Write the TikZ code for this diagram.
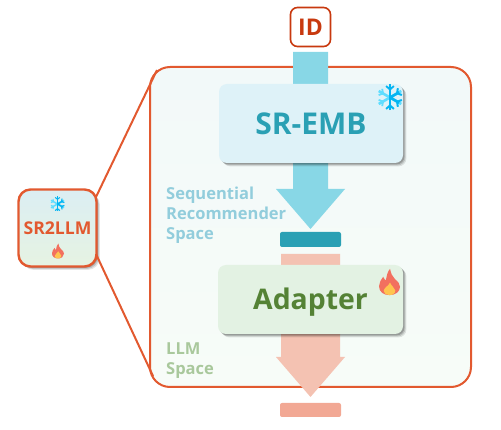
\documentclass[tikz,border=0pt]{standalone}
\usepackage{fontspec}
\setmainfont{Open Sans}
\usetikzlibrary{shadows}
\definecolor{edgeor}{HTML}{E2592F}
\definecolor{idred}{HTML}{C8390F}
\definecolor{arrowblue}{HTML}{88D7E6}
\definecolor{barblue}{HTML}{2AA0B4}
\definecolor{arrowsal}{HTML}{F4C2B2}
\definecolor{barsal}{HTML}{F2A894}
\definecolor{snowa}{HTML}{5FDDFF}
\definecolor{snowb}{HTML}{05B5F2}
\definecolor{flamea}{HTML}{F2705F}
\definecolor{flameb}{HTML}{FFC44F}
\definecolor{frametop}{HTML}{F2F9F9}
\definecolor{framebot}{HTML}{F7FCF8}
\definecolor{modtop}{HTML}{DBEEF3}
\definecolor{modbot}{HTML}{E6F3E2}
\definecolor{embfill}{HTML}{DEF2F8}
\definecolor{adfill}{HTML}{E3F2E3}
\definecolor{adtext}{HTML}{548235}
\definecolor{seqtext}{HTML}{92CDDC}
\definecolor{llmtext}{HTML}{A9C89C}
\tikzset{
  softshadow/.style={
    general shadow={fill=black,opacity=.10,shadow xshift=3.4pt,shadow yshift=-3.4pt},
    general shadow={fill=black,opacity=.14,shadow xshift=2.4pt,shadow yshift=-2.4pt},
    general shadow={fill=black,opacity=.20,shadow xshift=1.4pt,shadow yshift=-1.4pt}},
  block/.style={rounded corners=8pt,inner sep=0pt,softshadow},
  spacelabel/.style={anchor=north west,align=left,inner sep=0pt,font=\bfseries\fontsize{16.5}{20}\selectfont},
  pics/snowicon/.style={code={
    \foreach \a in {30,90,150,210,330}{
      \draw[snowa,line width=#1*.2pt] ({\a}:1) -- (0,0);
      \draw[snowa,line width=#1*.14pt] ({\a}:.62) -- +({\a+50}:.36) ({\a}:.62) -- +({\a-50}:.36);
    }
    \draw[snowb,line width=#1*.2pt] (0,-1) -- (0,1);
    \draw[snowb,line width=#1*.2pt] (0,0) -- (.7,.4) (0,0) -- (.7,-.4);
    \draw[snowb,line width=#1*.14pt] (0,-.62) -- (.3,-.88) (0,-.62) -- (-.3,-.88);
    \draw[snowb,line width=#1*.14pt] (0,.62) -- (.3,.88) (0,.62) -- (-.3,.88);
    \draw[snowb,line width=#1*.14pt] (.55,.32) -- (.92,.2) (.55,.32) -- (.6,.72);
    \draw[snowb,line width=#1*.14pt] (.55,-.32) -- (.92,-.2) (.55,-.32) -- (.6,-.72);
  }},
  pics/flameicon/.style={code={
    \fill[flamea] (.05,-1.25) .. controls (.15,-.8) and (.25,-.55) .. (.5,-.3)
       .. controls (.8,0) and (1,.1) .. (1,.45)
       .. controls (1,.95) and (.55,1.25) .. (0,1.25)
       .. controls (-.55,1.25) and (-1,.95) .. (-1,.4)
       .. controls (-1,.05) and (-.8,-.2) .. (-.6,-.5)
       .. controls (-.5,-.3) and (-.45,-.2) .. (-.35,-.15)
       .. controls (-.25,-.6) and (-.2,-1) .. (.05,-1.25) -- cycle;
    \fill[flameb] (.05,.05) .. controls (.12,.3) and (.45,.5) .. (.55,.8)
       .. controls (.55,1.1) and (.3,1.25) .. (0,1.25)
       .. controls (-.3,1.25) and (-.55,1.1) .. (-.55,.85)
       .. controls (-.55,.55) and (-.1,.4) .. (.05,.05) -- cycle;
  }},
}
\begin{document}
\begin{tikzpicture}[x=1pt,y=-1pt]
\useasboundingbox (0,0) rectangle (501,430);
\node[rounded corners=20pt,draw=edgeor,line width=2pt,
  minimum width=321pt,minimum height=320pt,inner sep=0pt,
  top color=frametop,bottom color=framebot] (frame) at (310.5,227) {};
\coordinate (fa) at (157,70);
\coordinate (fb) at (153,376);
\node[rounded corners=12pt,draw=edgeor,line width=2.4pt,minimum width=78pt,minimum height=77pt,inner sep=0pt,softshadow,
  top color=modtop,bottom color=modbot,
  text=edgeor,font=\bfseries\fontsize{17.6}{20}\selectfont] (sr) at (57.5,228) {SR2LLM};
\coordinate (sa) at (96,197);
\coordinate (sb) at (96,254);
\draw[edgeor,line width=2pt] (sa) -- (fa);
\draw[edgeor,line width=2pt] (sb) -- (fb);
\pic[scale=7.5] at (57.5,204) {snowicon=7.5};
\pic[scale=6] at (58,251) {flameicon};
\node[rounded corners=7pt,draw=idred,line width=1.6pt,fill=white,minimum width=40pt,minimum height=39pt,inner sep=0pt,
  text=idred,font=\bfseries\fontsize{23}{26}\selectfont] (id) at (310.5,27) {ID};
\fill[arrowblue] (293,52) -- (328,52) -- (328,189) -- (345,189) -- (310.5,229) -- (276,189) -- (293,189) -- cycle;
\node[block,fill=embfill,minimum width=184pt,minimum height=79pt,
  text=barblue,font=\bfseries\fontsize{30}{34}\selectfont] (emb) at (311,123.5) {SR-EMB};
\pic[scale=13] at (390,97.5) {snowicon=13};
\node[spacelabel,text=seqtext] (seq) at (166,187) {Sequential\\Recommender\\Space};
\node[fill=barblue,rounded corners=2pt,minimum width=61pt,minimum height=15pt,inner sep=0pt] (bar1) at (310.5,239.5) {};
\fill[arrowsal] (281,254) -- (340,254) -- (340,357) -- (345,357) -- (310.5,397) -- (276,357) -- (281,357) -- cycle;
\node[block,fill=adfill,minimum width=185pt,minimum height=69pt,text height=25pt,text depth=4pt,
  text=adtext,font=\bfseries\fontsize{28.4}{34}\selectfont] (ad) at (310.5,299.5) {Adapter};
\pic[scale=10.5] at (389.5,282) {flameicon};
\node[spacelabel,text=llmtext] (llm) at (166,343) {LLM\\Space};
\node[fill=barsal,rounded corners=2pt,minimum width=61pt,minimum height=14pt,inner sep=0pt] (bar2) at (310.5,410) {};
\end{tikzpicture}
\end{document}
